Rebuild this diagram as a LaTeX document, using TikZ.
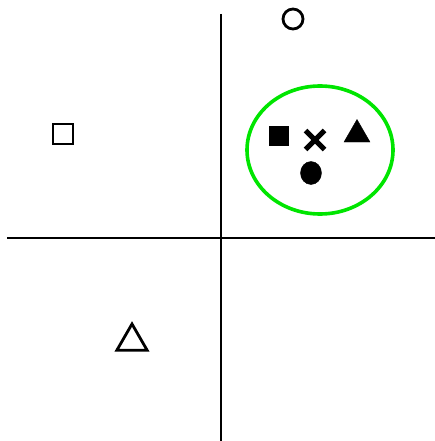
\documentclass[tikz,border=0pt]{standalone}
\usepackage{tikz}
\usetikzlibrary{shapes.geometric,shapes.misc}

\begin{document}
\begin{tikzpicture}[x=1pt, y=-1pt,
  axis/.style={line width=2pt},
  hollow/.style={draw, line width=2.8pt, inner sep=0pt},
  solid/.style={fill, draw, inner sep=0pt}]
  \useasboundingbox (0, 0) rectangle (435, 441);
  \coordinate (top) at (220.5, 14);
  \coordinate (bottom) at (220.5, 441);
  \coordinate (left) at (7, 238);
  \coordinate (right) at (435, 238);
  \draw[axis] (top) to (bottom);
  \draw[axis] (left) to (right);
  \node[hollow, circle, minimum size=20pt] (ocirc) at (293, 19) {};
  \node[hollow, rectangle, minimum size=20pt] (osq) at (63, 134) {};
  \node[hollow, regular polygon, regular polygon sides=3, minimum size=35pt] (otri) at (132, 341.5) {};
  \node[draw=green!90!black, line width=3.6pt, ellipse, minimum width=146pt, minimum height=128pt] (group) at (320, 150) {};
  \node[solid, rectangle, minimum size=19pt] (fsq) at (279, 136) {};
  \node[draw, cross out, line width=5pt, minimum size=14pt, inner sep=0pt] (cross) at (315, 140) {};
  \node[solid, regular polygon, regular polygon sides=3, minimum size=30pt] (ftri) at (357, 134.5) {};
  \node[solid, ellipse, minimum width=21pt, minimum height=23pt] (fcirc) at (311, 173) {};
\end{tikzpicture}
\end{document}
